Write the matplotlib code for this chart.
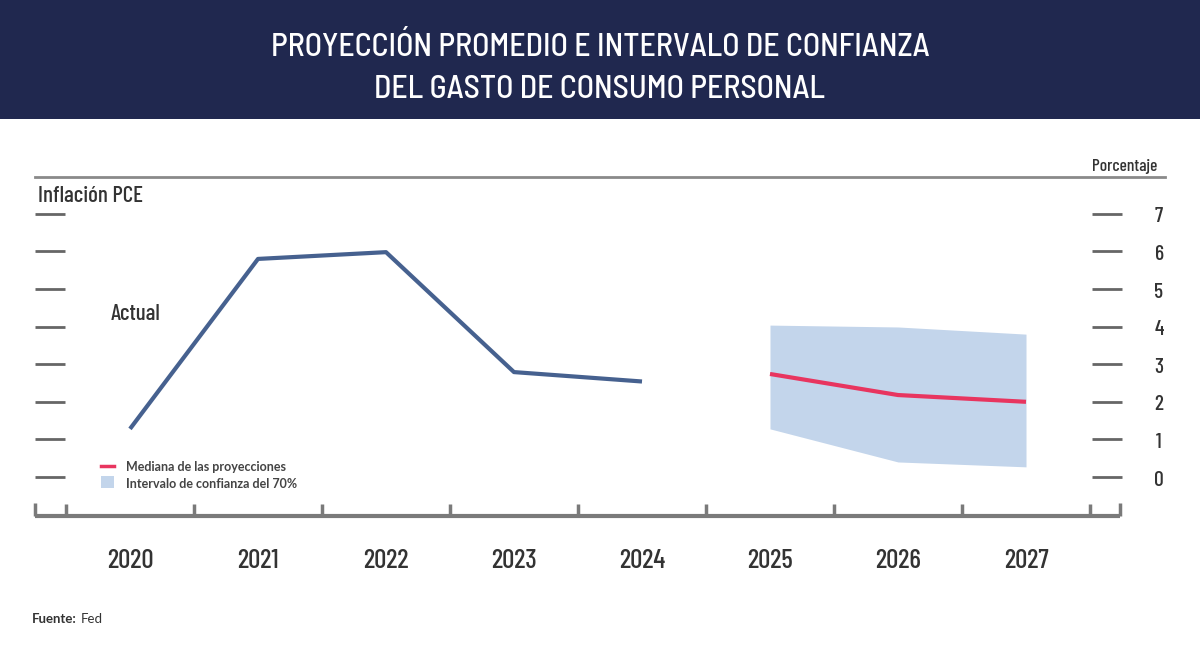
import matplotlib
matplotlib.use("Agg")
import matplotlib.pyplot as plt
from matplotlib.patches import Rectangle, Circle, Polygon

# ---------------- data ----------------
actual_years = [2020, 2021, 2022, 2023, 2024]
actual_values = [1.28, 5.80, 5.98, 2.79, 2.54]
proj_years = [2025, 2026, 2027]
proj_median = [2.74, 2.18, 2.00]
proj_upper = [4.04, 3.99, 3.80]
proj_lower = [1.28, 0.40, 0.27]
year_labels = ["2020", "2021", "2022", "2023", "2024", "2025", "2026", "2027"]
y_ticks = [0, 1, 2, 3, 4, 5, 6, 7]

title_lines = ["PROYECCIÓN PROMEDIO E INTERVALO DE CONFIANZA",
               "DEL GASTO DE CONSUMO PERSONAL"]

# ---------------- fonts ----------------
COND = ["Barlow Condensed", "DejaVu Sans"]
SEMI = ["Barlow Semi Condensed", "Barlow Condensed", "DejaVu Sans"]
GEO = ["Lato", "DejaVu Sans"]

W, H = 1200, 646
fig = plt.figure(figsize=(12, 6.46), dpi=100)
fig.patch.set_facecolor("white")


def fx(px):
    return px / W


def fy(py):
    return 1 - py / H


# header band
fig.patches.append(Rectangle((0, fy(119)), 1, 119 / H, transform=fig.transFigure,
                             facecolor="#20284f", edgecolor="none", zorder=0))
for yy, line in zip([44, 87], title_lines):
    fig.text(0.5, fy(yy), line, color="white", ha="center", va="center_baseline",
             family=SEMI, fontsize=23, weight=500)

# logo
lax = fig.add_axes([fx(33), fy(105), fx(90), 90 / H])
lax.set_xlim(-1, 1); lax.set_ylim(-1, 1); lax.set_aspect("equal"); lax.axis("off")
navy = "#20284f"
lax.add_patch(Circle((0, 0), 0.97, facecolor="white", edgecolor="none"))
lax.add_patch(Polygon([(-0.62, 0.48), (-0.72, 0.2), (-0.7, -0.05), (-0.45, -0.2), (-0.25, -0.18),
                       (-0.25, -0.02), (-0.48, -0.02), (-0.55, 0.15), (-0.55, 0.38)],
                      facecolor=navy, edgecolor="none"))
lax.add_patch(Polygon([(0.55, 0.62), (0.68, 0.35), (0.68, 0.05), (0.45, -0.15), (0.25, -0.12),
                       (0.25, 0.02), (0.45, 0.05), (0.52, 0.25), (0.5, 0.48)],
                      facecolor=navy, edgecolor="none"))
lax.add_patch(Circle((0.0, -0.32), 0.3, facecolor=navy, edgecolor="none"))
lax.add_patch(Rectangle((-0.3, -0.28), 0.6, 0.42, facecolor=navy, edgecolor="none"))
for xx in [-0.15, 0.0, 0.15]:
    lax.plot([xx, xx], [0.0, 0.13], color="white", lw=1.2)
lax.plot([-0.28, 0.28], [-0.02, -0.02], color="white", lw=1.2)
lax.plot([-0.05, 0.12, 0.05], [-0.25, -0.15, -0.32], color="white", lw=1.2)

# ---------------- main axes ----------------
x0px, x1px = 35, 1165
y0px, y1px = 177, 516
year_px0, year_step = 130, 128
zero_px, unit_px = 477, 37.6
xlim = (2020 + (x0px - year_px0) / year_step, 2020 + (x1px - year_px0) / year_step)
ylim = ((zero_px - y1px) / unit_px, (zero_px - y0px) / unit_px)

ax = fig.add_axes([fx(x0px), fy(y1px), fx(x1px - x0px), (y1px - y0px) / H])
ax.set_xlim(*xlim)
ax.set_ylim(*ylim)
for s in ax.spines.values():
    s.set_visible(False)
ax.set_facecolor("none")

grey = "#7a7a7a"
ax.plot([0, 1], [1, 1], transform=ax.transAxes, color="#8a8a8a", lw=2, clip_on=False)
xend = (1120 - x0px) / (x1px - x0px)
ax.plot([0, xend], [0, 0], transform=ax.transAxes, color=grey, lw=3, clip_on=False,
        solid_capstyle="butt")

bounds = [y - 0.5 for y in range(2020, 2029)]
ax.set_xticks(bounds)
ax.set_xticklabels([])
ax.tick_params(axis="x", direction="in", length=9, width=2.5, color=grey, pad=0)
for xa in [0.0, xend]:
    ax.plot([xa, xa], [0, 13 / (y1px - y0px)], transform=ax.transAxes, color=grey, lw=2.5,
            clip_on=False, solid_capstyle="butt")

for i, lab in enumerate(year_labels):
    ax.text(2020 + i, (zero_px - 559) / unit_px, lab, ha="center", va="center_baseline",
            family=COND, fontsize=19.5, color="#333333", weight=500)

ax.set_yticks([])
ytr = ax.get_yaxis_transform()
lft = ((35 - x0px) / (x1px - x0px), (65 - x0px) / (x1px - x0px))
rgt = ((1092 - x0px) / (x1px - x0px), (1122 - x0px) / (x1px - x0px))
ax.hlines(y_ticks, lft[0], lft[1], transform=ytr, color="#666666", lw=2)
ax.hlines(y_ticks, rgt[0], rgt[1], transform=ytr, color="#666666", lw=2)
for v in y_ticks:
    ax.text((1159 - x0px) / (x1px - x0px), v - 0.03, str(v), transform=ytr, ha="center",
            va="center_baseline", family=COND, fontsize=15.5, color="#333333", weight=500)

ax.fill_between(proj_years, proj_lower, proj_upper, color="#c3d5eb", lw=0, zorder=1)
ax.plot(actual_years, actual_values, color="#46618f", lw=3, zorder=3, solid_capstyle="butt")
ax.plot(proj_years, proj_median, color="#e8355f", lw=3, zorder=3, solid_capstyle="butt")

fig.text(fx(38), fy(194), "Inflación PCE", family=COND, fontsize=16.5, color="#333333",
         ha="left", va="center_baseline", weight=500)
fig.text(fx(1157), fy(165), "Porcentaje", family=COND, fontsize=12.5, color="#333333",
         ha="right", va="center_baseline", weight=500)
fig.text(fx(111), fy(312), "Actual", family=COND, fontsize=16.5, color="#333333",
         ha="left", va="center_baseline", weight=500)

# legend (manual)
fig.lines.append(plt.Line2D([fx(101), fx(114)], [fy(466), fy(466)], transform=fig.transFigure,
                            color="#e8355f", lw=2.5))
fig.patches.append(Rectangle((fx(101), fy(488)), fx(13), 12 / H, transform=fig.transFigure,
                             facecolor="#c3d5eb", edgecolor="none"))
fig.text(fx(126), fy(466), "Mediana de las proyecciones", family=GEO, fontsize=9,
         color="#444444", ha="left", va="center_baseline", weight="bold")
fig.text(fx(126), fy(483), "Intervalo de confianza del 70%", family=GEO, fontsize=9,
         color="#444444", ha="left", va="center_baseline", weight="bold")

t1 = fig.text(fx(32), fy(618), "Fuente:", family=GEO, fontsize=9.5, color="#333333",
              ha="left", va="center_baseline", weight="bold")
fig.canvas.draw()
bb = t1.get_window_extent()
fig.text(bb.x1 / W + 0.003, fy(618), "Fed", family=GEO, fontsize=9.5, color="#333333",
         ha="left", va="center_baseline")

fig.savefig("out.png", dpi=100)
